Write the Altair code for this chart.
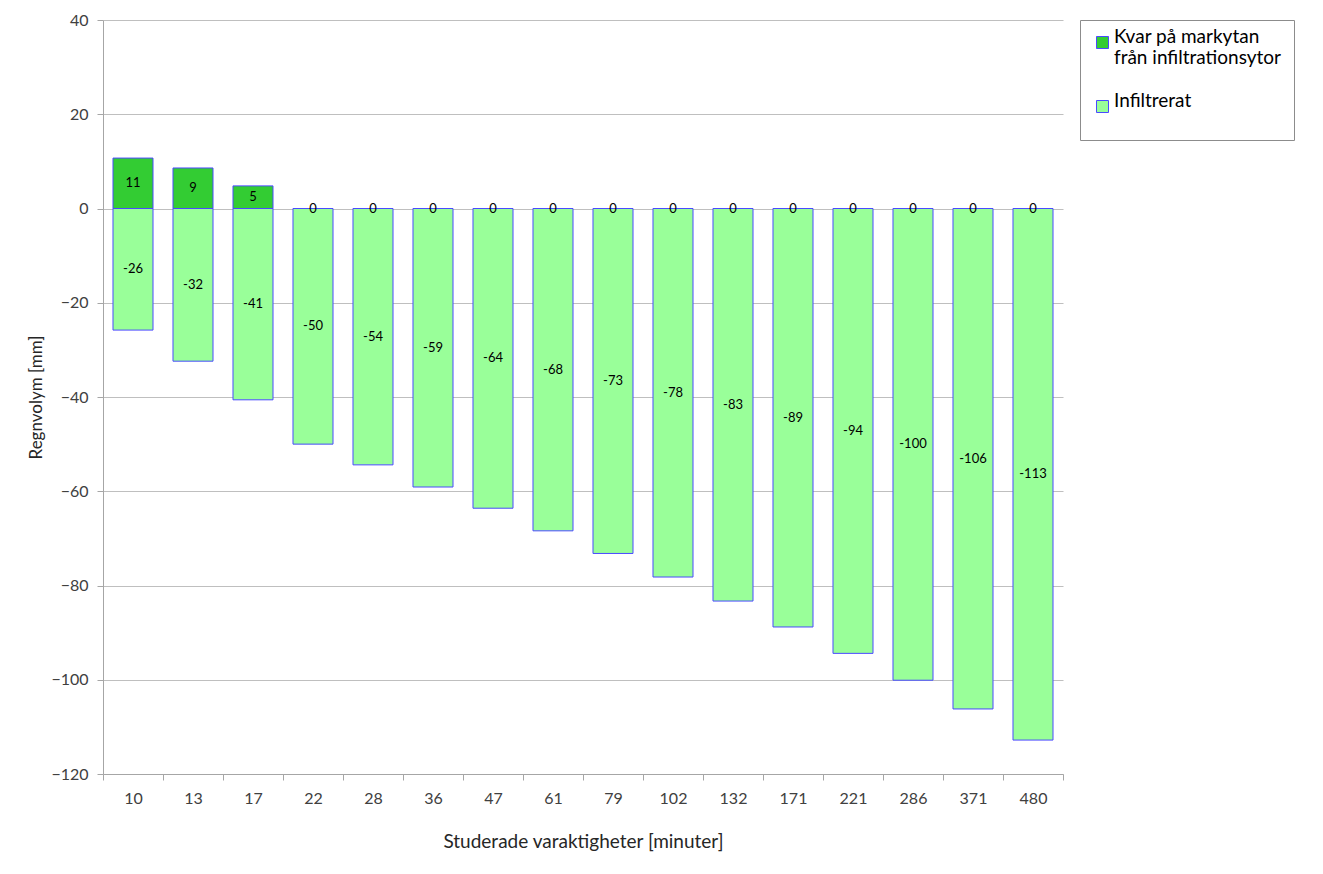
import altair as alt
import pandas as pd

durations = ["10", "13", "17", "22", "28", "36", "47", "61", "79", "102", "132", "171", "221", "286", "371", "480"]
kvar = [10.7, 8.6, 4.8, 0, 0, 0, 0, 0, 0, 0, 0, 0, 0, 0, 0, 0]
kvar_labels = ["11", "9", "5", "0", "0", "0", "0", "0", "0", "0", "0", "0", "0", "0", "0", "0"]
infiltrerat = [-25.8, -32.4, -40.6, -50.0, -54.4, -59.1, -63.6, -68.4, -73.2, -78.2, -83.3, -88.8, -94.4, -100.1, -106.2, -112.8]
infiltrerat_labels = ["-26", "-32", "-41", "-50", "-54", "-59", "-64", "-68", "-73", "-78", "-83", "-89", "-94", "-100", "-106", "-113"]

S1 = "Kvar på markytan från infiltrationsytor"
S2 = "Infiltrerat"

rows = []
for d, v, l in zip(durations, kvar, kvar_labels):
    rows.append({"dur": d, "value": v, "label": l, "serie": S1})
for d, v, l in zip(durations, infiltrerat, infiltrerat_labels):
    rows.append({"dur": d, "value": v, "label": l, "serie": S2})
df = pd.DataFrame(rows)

FONT = "Lato"

x_enc = alt.X("dur:N", sort=durations,
              scale=alt.Scale(paddingInner=0, paddingOuter=0),
              axis=alt.Axis(title="Studerade varaktigheter [minuter]", labelAngle=0,
                            tickBand="extent", tickSize=6, tickColor="#a6a6a6",
                            domainColor="#a6a6a6", labelColor="#404040", labelFontSize=16,
                            labelPadding=10, titleFontSize=19, titleFontWeight="normal",
                            titleColor="#262626", titlePadding=26, grid=False,
                            labelFont=FONT, titleFont=FONT))

bars = alt.Chart(df).mark_bar(stroke="#4a4aff", strokeWidth=1,
                              width=alt.RelativeBandSize(0.667)).encode(
    x=x_enc,
    y=alt.Y("value:Q", scale=alt.Scale(domain=[-120, 40], nice=False),
            axis=alt.Axis(title="Regnvolym [mm]", values=list(range(-120, 41, 20)),
                          grid=True, gridColor="#bfbfbf", tickColor="#a6a6a6", tickSize=6,
                          domainColor="#a6a6a6", labelColor="#404040", labelFontSize=16,
                          labelPadding=9, titleFontSize=17, titleFontWeight="normal",
                          titleColor="#262626", titlePadding=5,
                          labelFont=FONT, titleFont=FONT)),
    y2=alt.datum(0),
    color=alt.Color("serie:N", scale=alt.Scale(domain=[S1, S2], range=["#33cc33", "#99ff99"]),
                    legend=alt.Legend(title=" ", titleOrient="bottom", titleFontSize=10,
                                      titlePadding=2,
                                      orient="none", legendX=977, legendY=0,
                                      symbolType="square", symbolSize=144,
                                      symbolStrokeColor="#4a4aff", symbolStrokeWidth=1,
                                      labelFont=FONT, labelFontSize=19, labelColor="#000000",
                                      labelLimit=0, rowPadding=23, padding=13,
                                      fillColor="white", strokeColor="#8c8c8c",
                                      labelExpr="datum.label == '" + S1 + "' ? ['Kvar på markytan', 'från infiltrationsytor'] : datum.label",
                                      labelBaseline="alphabetic", labelOffset=2)),
)

text = alt.Chart(df).transform_calculate(mid="datum.value / 2").mark_text(
    fontSize=13, font=FONT, color="#000000", baseline="middle"
).encode(
    x=alt.X("dur:N", sort=durations),
    y=alt.Y("mid:Q"),
    text="label:N",
)

chart = alt.layer(bars, text).properties(
    width=960, height=754,
    autosize=alt.AutoSizeParams(type="none"),
    padding={"left": 95, "top": 12, "right": 252, "bottom": 92},
).configure_view(stroke=None)

chart.save("out.html", embed_options={"renderer": "svg", "actions": False})
